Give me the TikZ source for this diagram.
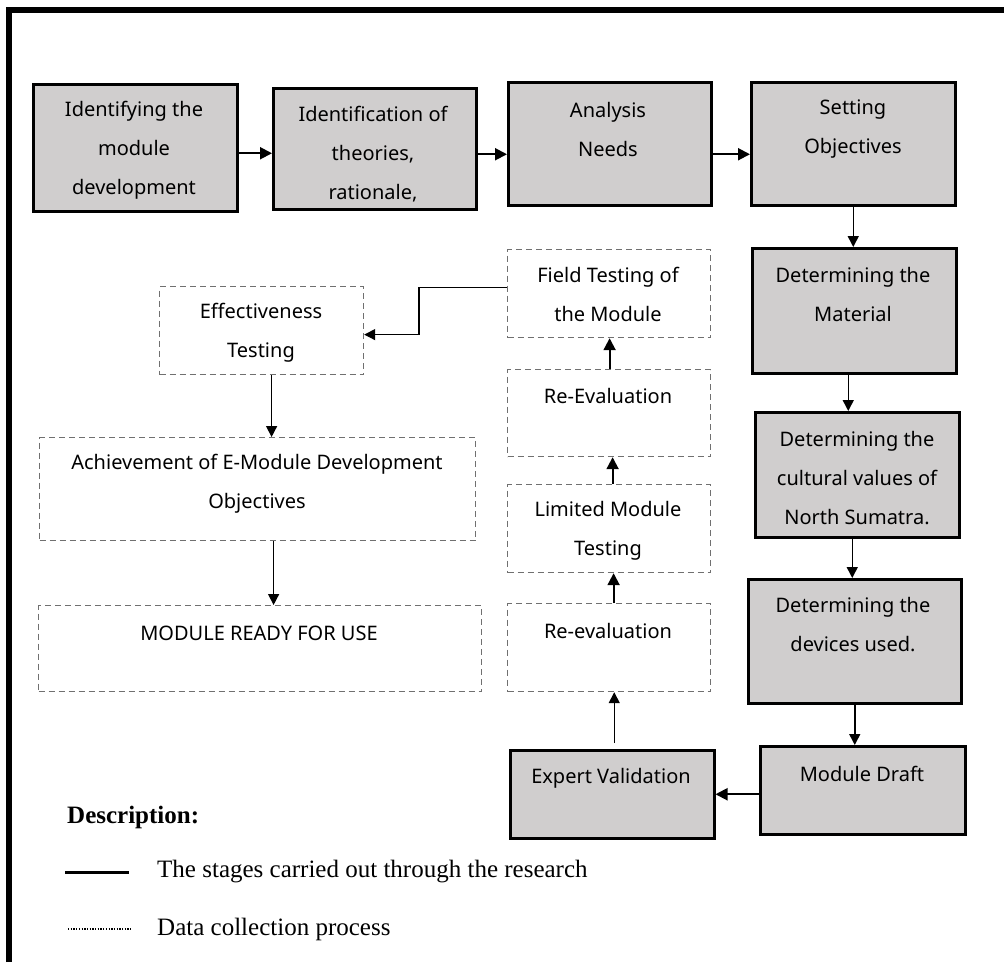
\documentclass[tikz,border=0pt]{standalone}
\usepackage{fontspec}
\setmainfont{Noto Sans}
\newfontfamily\legfont{Liberation Serif}
\usetikzlibrary{arrows.meta}
\definecolor{boxgray}{HTML}{D0CECE}
\definecolor{dashgray}{HTML}{707070}
\begin{document}
\begin{tikzpicture}[x=1pt,y=-1pt,
  gbox/.style={draw=black, line width=2.5pt, fill=boxgray, anchor=north west, inner sep=0pt},
  dbox/.style={draw=dashgray, line width=1.2pt, dash pattern=on 6pt off 4pt, anchor=north west, inner sep=0pt},
  txt/.style={font=\fontsize{20}{39}\selectfont, align=center, inner sep=0pt},
  arr/.style={-{Triangle[length=11pt,width=11pt]}, line width=1.5pt},
  tarr/.style={-{Triangle[length=12pt,width=12pt]}, line width=2pt},
  legtxt/.style={font=\legfont\fontsize{25}{30}\selectfont, anchor=west, inner sep=0pt}]
\useasboundingbox (0,0) rectangle (1004,962);
% frame
\draw[line width=5.5pt, line join=miter] (9,962) -- (9,10) -- (1004,10);
% top row
\node[gbox, minimum width=204pt, minimum height=127pt] (b1) at (32,83) {};
\node[gbox, minimum width=203pt, minimum height=121pt] (b2) at (272,87) {};
\node[gbox, minimum width=203pt, minimum height=123pt] (b3) at (507,81) {};
\node[gbox, minimum width=204pt, minimum height=123pt] (b4) at (750,81) {};
\node[txt] (t1) at (134,150) {Identifying the\\module\\development};
\node[txt] (t2) at (373,154) {Identification of\\theories,\\rationale,};
\node[txt] (t3) at (608,129) {Analysis\\Needs};
\node[txt] (t4) at (853,129) {Setting\\Objectives};
% right column
\node[gbox, minimum width=204pt, minimum height=125pt] (mat) at (751,247) {};
\node[gbox, minimum width=204pt, minimum height=125pt] (cul) at (754,411) {};
\node[gbox, minimum width=213pt, minimum height=124pt] (dev) at (747,578) {};
\node[gbox, minimum width=205pt, minimum height=88pt] (draft) at (759,745) {};
\node[gbox, minimum width=204pt, minimum height=88pt] (expert) at (509,749) {};
\node[txt] (tmat) at (853,294) {Determining the\\Material};
\node[txt] (tcul) at (857,478) {Determining the\\cultural values of\\North Sumatra.};
\node[txt] (tdev) at (853,625) {Determining the\\devices used.};
\node[txt] (tdraft) at (862,774) {Module Draft};
\node[txt] (texpert) at (611,778) {Expert Validation};
% middle column (dashed)
\node[dbox, minimum width=203pt, minimum height=88pt] (field) at (507,249) {};
\node[dbox, minimum width=203pt, minimum height=87pt] (reev1) at (507,369) {};
\node[dbox, minimum width=203pt, minimum height=88pt] (lim) at (507,484) {};
\node[dbox, minimum width=203pt, minimum height=88pt] (reev2) at (507,603) {};
\node[txt] (tfield) at (608,294) {Field Testing of\\the Module};
\node[txt] (treev1) at (608,396) {Re-Evaluation};
\node[txt] (tlim) at (608,531) {Limited Module\\Testing};
\node[txt] (treev2) at (608,631) {Re-evaluation};
% left column (dashed)
\node[dbox, minimum width=204pt, minimum height=88pt] (eff) at (159,286) {};
\node[dbox, minimum width=436pt, minimum height=103pt] (ach) at (39,437) {};
\node[dbox, minimum width=443pt, minimum height=86pt] (ready) at (38,605) {};
\node[txt] (teff) at (261,333) {Effectiveness\\Testing};
\node[txt] (tach) at (257,484) {Achievement of E-Module Development\\Objectives};
\node[txt] (tready) at (259,633) {MODULE READY FOR USE};
% connectors top row
\draw[tarr] ([yshift=-5.5pt]b1.east) -- ([yshift=-5.5pt]b1.east -| b2.west);
\draw[tarr] ([yshift=-5.5pt]b2.east) -- ([yshift=-5.5pt]b2.east -| b3.west);
\draw[tarr] ([yshift=-10.5pt]b3.east) -- ([yshift=-10.5pt]b3.east -| b4.west);
% right column
\draw[arr] (b4.south) -- (b4.south |- mat.north);
\draw[arr] ([xshift=-6pt]mat.south) -- ([xshift=-6pt]mat.south |- cul.north);
\draw[arr] ([xshift=-5pt]cul.south) -- ([xshift=-5pt]cul.south |- dev.north);
\draw[arr] (dev.south) -- (dev.south |- draft.north);
\draw[tarr] ([yshift=-4pt]draft.west) -- ([yshift=-4pt]draft.west -| expert.east);
% middle column
\draw[arr, shorten <=6pt] ([xshift=2pt]expert.north) -- ([xshift=2pt]expert.north |- reev2.south);
\draw[tarr] ([xshift=4.5pt]reev2.north) -- ([xshift=4.5pt]reev2.north |- lim.south);
\draw[tarr] ([xshift=3.5pt]lim.north) -- ([xshift=3.5pt]lim.north |- reev1.south);
\draw[tarr] ([xshift=0.5pt]reev1.north) -- ([xshift=0.5pt]reev1.north |- field.south);
% field -> effectiveness
\coordinate (bend) at (419,0);
\coordinate (effin) at ([yshift=-4pt]eff.east);
\coordinate (fieldout) at ([yshift=6pt]field.west);
\draw[arr, line width=1.2pt] (fieldout) -| (bend |- effin) -- (effin);
% left column
\draw[arr] ([xshift=10pt]eff.south) -- ([xshift=10pt]eff.south |- ach.north);
\draw[arr] ([xshift=16pt]ach.south) -- ([xshift=16pt]ach.south |- ready.north);
% legend
\node[legtxt, font=\legfont\bfseries\fontsize{25}{30}\selectfont] (desc) at (67,817) {Description:};
\coordinate (l1a) at (65,872);
\coordinate (l1b) at (129,872);
\coordinate (l2a) at (68,929);
\coordinate (l2b) at (132,929);
\draw[line width=3pt] (l1a) -- (l1b);
\draw[line width=2pt, dash pattern=on 1.3pt off 1.4pt] (l2a) -- (l2b);
\node[legtxt] (leg1) at (157,872) {The stages carried out through the research};
\node[legtxt] (leg2) at (157,929) {Data collection process};
\end{tikzpicture}
\end{document}
